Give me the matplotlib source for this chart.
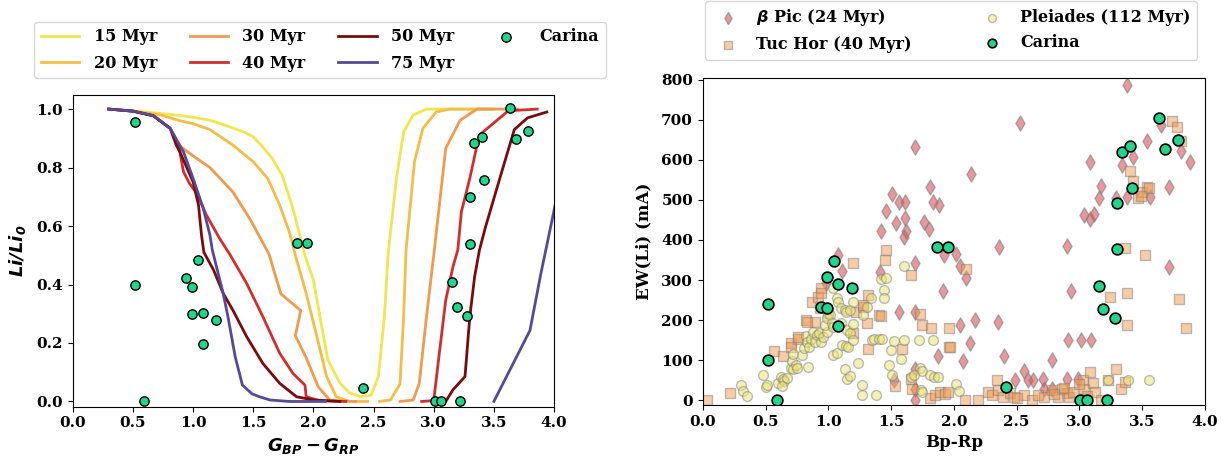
import numpy as np
import matplotlib
matplotlib.use("Agg")
import matplotlib.pyplot as plt

plt.rcParams['font.family'] = 'DejaVu Serif'
plt.rcParams['font.weight'] = 'bold'
plt.rcParams['font.size'] = 11

nan = np.nan

# lithium depletion curves (Li/Li0 vs Gbp-Grp)
ages = ['15 Myr', '20 Myr', '30 Myr', '40 Myr', '50 Myr', '75 Myr']
colors = ['#f0e64e', '#f4bd45', '#f09a4c', '#d42d2d', '#7a0b0b', '#564995']

c15_x = [0.3, 0.5, 0.73, 0.89, 1.0, 1.14, 1.3, 1.42, 1.5, 1.58, 1.66, 1.74, 1.83, 1.93, 2.0, 2.05, 2.12, 2.22,
         2.3, 2.39, 2.48, 2.54, 2.59, 2.62, 2.69, 2.75, 2.83, 2.94, 3.1, 3.5]
c15_y = [1.0, 0.995, 0.985, 0.978, 0.972, 0.962, 0.94, 0.922, 0.905, 0.87, 0.83, 0.774, 0.66, 0.50, 0.415, 0.3,
         0.142, 0.063, 0.03, 0.016, 0.022, 0.085, 0.29, 0.5, 0.763, 0.922, 0.98, 1.0, 1.0, 1.0]

c20_x = [0.3, 0.5, 0.73, 0.89, 1.0, 1.14, 1.33, 1.5, 1.62, 1.72, 1.8, 1.85, 1.94, 2.03, 2.11, 2.19, 2.3, 2.45,
         nan, 2.55, 2.64, 2.72, 2.75, 2.77, 2.84, 2.91, 3.02, 3.13, 3.5]
c20_y = [1.0, 0.993, 0.98, 0.96, 0.95, 0.93, 0.877, 0.82, 0.763, 0.672, 0.58, 0.5, 0.37, 0.22, 0.085, 0.016, 0.0,
         0.0, nan, 0.0, 0.005, 0.06, 0.29, 0.518, 0.82, 0.934, 0.99, 1.0, 1.0]

c30_x = [0.3, 0.5, 0.67, 0.81, 0.88, 1.0, 1.14, 1.33, 1.47, 1.56, 1.63, 1.73, 1.895, 1.85, 1.94, 2.04, 2.14, 2.35,
         nan, 2.72, 2.83, 2.88, 2.94, 3.0, 3.1, 3.22, 3.36, 3.7]
c30_y = [1.0, 0.993, 0.977, 0.934, 0.877, 0.84, 0.80, 0.717, 0.626, 0.558, 0.505, 0.368, 0.311, 0.225, 0.15, 0.05,
         0.003, 0.0, nan, 0.0, 0.005, 0.062, 0.29, 0.5, 0.866, 0.962, 1.0, 1.0]

c40_x = [0.3, 0.5, 0.67, 0.81, 0.88, 0.92, 0.97, 1.03, 1.11, 1.22, 1.31, 1.445, 1.58, 1.72, 1.83, 1.93, 1.94, 2.05,
         2.27, nan, 2.9, 3.0, 3.05, 3.1, 3.16, 3.2, 3.23, 3.3, 3.36, 3.39, 3.62, 3.86]
c40_y = [1.0, 0.993, 0.977, 0.934, 0.877, 0.786, 0.746, 0.712, 0.638, 0.558, 0.5, 0.404, 0.29, 0.165, 0.096, 0.056,
         0.016, 0.003, 0.0, nan, 0.0, 0.003, 0.176, 0.347, 0.461, 0.518, 0.649, 0.763, 0.877, 0.915, 0.994, 1.0]

c50_x = [0.3, 0.5, 0.67, 0.81, 0.86, 0.89, 1.0, 1.045, 1.07, 1.09, 1.17, 1.25, 1.33, 1.445, 1.58, 1.72, 1.86, 2.0,
         2.22, nan, 3.02, 3.1, 3.16, 3.26, 3.3, 3.34, 3.38, 3.43, 3.56, 3.67, 3.78, 3.94]
c50_y = [1.0, 0.993, 0.977, 0.934, 0.877, 0.854, 0.751, 0.672, 0.569, 0.51, 0.45, 0.37, 0.313, 0.222, 0.13, 0.062,
         0.016, 0.005, 0.0, nan, 0.0, 0.0, 0.04, 0.085, 0.29, 0.427, 0.518, 0.596, 0.778, 0.93, 0.97, 0.99]

c75_x = [0.3, 0.5, 0.67, 0.81, 0.92, 1.0, 1.085, 1.14, 1.16, 1.25, 1.29, 1.35, 1.41, 1.49, 1.56, 1.64, 1.8, 2.1,
         nan, 3.5, 3.8, 3.89, 4.0, 4.1]
c75_y = [1.0, 0.993, 0.978, 0.934, 0.854, 0.763, 0.66, 0.569, 0.518, 0.37, 0.29, 0.153, 0.056, 0.026, 0.015, 0.005,
         0.0, 0.0, nan, 0.0, 0.243, 0.436, 0.653, 0.87]

curves_x = [c15_x, c20_x, c30_x, c40_x, c50_x, c75_x]
curves_y = [c15_y, c20_y, c30_y, c40_y, c50_y, c75_y]

# Carina members
car_bprp = [0.516, 0.516, 0.59, 0.94, 0.99, 0.99, 1.044, 1.08, 1.08, 1.19, 1.866, 1.95, 2.414, 3.007, 3.06, 3.22,
            3.156, 3.19, 3.28, 3.30, 3.30, 3.336, 3.40, 3.417, 3.636, 3.68, 3.787]
car_li = [0.957, 0.399, 0.0, 0.421, 0.393, 0.298, 0.485, 0.304, 0.195, 0.279, 0.542, 0.542, 0.047, 0.0, 0.0, 0.0,
          0.408, 0.323, 0.292, 0.54, 0.70, 0.883, 0.904, 0.757, 1.005, 0.896, 0.925]
car_ew = [240, 101, 0, 233, 231, 307, 347, 289, 184, 280, 382, 382, 33, 0, 0, 0,
          286, 227, 205, 378, 492, 620, 634, 530, 705, 628, 649]

# beta Pic moving group
bpic_x = [0.98, 1.08, 1.106, 1.41, 1.42, 1.46, 1.51, 1.54, 1.56, 1.61, 1.61, 1.62, 1.6, 1.56, 1.69, 1.69, 1.69,
          1.69, 1.69, 1.69, 1.76, 1.80, 1.81, 1.83, 1.88, 1.87, 1.915, 1.92, 2.02, 2.045, 2.1, 2.045, 2.07, 2.125,
          2.133, 2.165, 2.36, 2.35, 2.4, 2.524, 2.56, 2.49, 2.59, 2.63, 2.71, 2.72, 2.78, 2.78, 2.9, 2.93, 2.91,
          3.01, 3.09, 2.9, 2.99, 3.08, 3.04, 3.08, 3.115, 3.154, 3.17, 3.29, 3.34, 3.375, 3.375, 3.43, 3.54, 3.56,
          3.65, 3.71, 3.71, 3.81, 3.88, 1.52]
bpic_ew = [292, 362, 322, 321, 423, 473, 514, 443, 494, 494, 454, 423, 408, 221, 633, 342, 219, 79, 29, 0, 446,
           427, 533, 496, 487, 110, 272, 362, 366, 335, 304, 187, 99, 142, 565, 200, 382, 195, 110, 692, 72, 50,
           50, 50, 54, 29, 29, 100, 385, 272, 150, 150, 150, 52, 52, 594, 462, 452, 464, 504, 536, 505, 586, 786,
           508, 606, 646, 507, 686, 533, 332, 622, 594, 50]

# Tuc Hor
tuc_x = [0.037, 0.22, 0.57, 0.64, 0.70, 0.70, 0.755, 0.76, 0.82, 0.87, 0.92, 0.94, 0.936, 0.89, 0.83, 0.94, 1.0,
         1.2, 1.22, 1.28, 1.28, 1.32, 1.31, 1.2, 1.32, 1.4, 1.42, 1.46, 1.455, 1.66, 1.73, 1.75, 1.82, 1.59, 1.655,
         1.53, 1.67, 1.81, 1.85, 1.89, 1.93, 1.96, 1.96, 2.1, 1.97, 1.95, 2.34, 2.19, 2.085, 2.27, 2.3, 2.35, 2.39,
         2.45, 2.48, 2.56, 2.62, 2.67, 2.72, 2.78, 2.83, 2.86, 2.9, 2.92, 3.03, 3.04, 3.08, 3.11, 3.12, 3.17, 3.23,
         3.29, 3.33, 3.36, 3.36, 3.52, 3.24, 3.38, 3.38, 3.79, 3.85, 3.40, 3.43, 3.47, 3.5, 3.54, 3.55, 3.49, 3.74,
         3.78, 3.81, 2.88, 2.95, 3.0, 3.06, 2.8, 2.5]
tuc_ew = [0, 18, 122, 110, 142, 133, 154, 158, 200, 246, 258, 279, 229, 196, 196, 267, 217, 342, 221, 233, 238,
          262, 192, 169, 129, 212, 211, 375, 350, 312, 214, 187, 179, 129, 52, 36, 29, 5, 12, 21, 15, 179, 133, 327,
          133, 21, 50, 0, 0, 21, 13, 25, 8, 17, 8, 13, 0, 13, 8, 25, 8, 29, 17, 8, 50, 29, 71, 42, 21, 0, 50, 79,
          29, 46, 379, 362, 258, 267, 188, 252, 179, 571, 548, 504, 521, 533, 529, 510, 696, 681, 646, 30, 20, 40,
          10, 15, 5]

# Pleiades
ple_x = [0.303, 0.32, 0.35, 0.48, 0.505, 0.51, 0.6, 0.62, 0.64, 0.65, 0.67, 0.63, 0.7, 0.71, 0.72, 0.74, 0.75,
         0.72, 0.79, 0.81, 0.82, 0.83, 0.845, 0.86, 0.835, 0.88, 0.895, 0.91, 0.925, 0.945, 0.96, 0.99, 0.975,
         0.99, 1.01, 1.03, 1.04, 1.04, 1.07, 1.08, 1.1, 1.13, 1.14, 1.17, 1.2, 1.1, 1.15, 1.17, 1.04, 1.07, 1.11,
         1.14, 1.16, 1.2, 1.13, 1.15, 1.17, 1.24, 1.2, 1.27, 1.27, 1.28, 1.31, 1.34, 1.35, 1.36, 1.4, 1.43, 1.38,
         1.42, 1.46, 1.44, 1.44, 1.5, 1.52, 1.58, 1.6, 1.48, 1.51, 1.6, 1.72, 1.83, 1.73, 1.75, 1.81, 1.84, 1.87,
         1.66, 1.68, 1.74, 1.75, 2.02, 2.04, 3.23, 3.39, 3.55]
ple_ew = [39, 22, 11, 62, 33, 39, 42, 58, 52, 47, 56, 36, 80, 97, 78, 88, 80, 115, 112, 131, 160, 146, 133, 154,
          83, 171, 146, 162, 167, 146, 158, 171, 188, 204, 213, 192, 183, 279, 254, 246, 229, 224, 219, 224, 244,
          192, 175, 169, 113, 119, 138, 136, 133, 150, 79, 54, 61, 92, 190, 37, 12, 212, 233, 254, 150, 154, 154,
          154, 14, 303, 304, 275, 254, 125, 148, 102, 150, 87, 62, 334, 150, 150, 80, 73, 62, 58, 58, 58, 63, 26,
          20, 40, 22, 50, 50, 50]

carina_col = '#1fd68c'

fig = plt.figure(figsize=(12.29, 4.57), dpi=100)

# ---- left panel
ax1 = fig.add_axes([0.0592, 0.110, 0.3916, 0.682])
for xs, ys, lab, col in zip(curves_x, curves_y, ages, colors):
    ax1.plot(xs, ys, color=col, lw=2.0, label=lab)
ax1.scatter(car_bprp, car_li, s=45, c=carina_col, edgecolors='black', linewidths=1.0, zorder=5, label='Carina')
ax1.set_xlim(0, 4)
ax1.set_ylim(-0.018, 1.048)
ax1.set_xticks(np.arange(0, 4.01, 0.5))
ax1.set_yticks(np.arange(0, 1.01, 0.2))
ax1.set_xlabel(r'$\mathbfit{G_{BP} - G_{RP}}$', fontsize=13, labelpad=4)
ax1.set_ylabel(r'$\mathbfit{Li/Li_0}$', fontsize=13, labelpad=6)
ax1.legend(loc='upper left', bbox_to_anchor=(0.028, 0.952), bbox_transform=fig.transFigure, ncol=4,
           handlelength=2.4, columnspacing=2.05, handletextpad=0.9, fontsize=11.5, labelspacing=0.6,
           borderaxespad=0)

# ---- right panel
ax2 = fig.add_axes([0.5718, 0.1138, 0.4087, 0.716])
ax2.scatter(bpic_x, bpic_ew, marker='d', s=60, c='#d9545c', edgecolors='gray', linewidths=1.0, alpha=0.6,
            label=r'$\mathbfit{\beta}$ Pic (24 Myr)')
ax2.scatter(tuc_x, tuc_ew, marker='s', s=55, c='#f29a4e', edgecolors='gray', linewidths=1.0, alpha=0.5,
            label='Tuc Hor (40 Myr)')
ax2.scatter(ple_x, ple_ew, marker='o', s=50, c='#ebe570', edgecolors='gray', linewidths=1.0, alpha=0.5,
            label='Pleiades (112 Myr)')
ax2.scatter(car_bprp, car_ew, s=60, c=carina_col, edgecolors='black', linewidths=1.2, zorder=5, label='Carina')
ax2.set_xlim(0, 4)
ax2.set_ylim(-12, 805)
ax2.set_xticks(np.arange(0, 4.01, 0.5))
ax2.set_yticks(np.arange(0, 801, 100))
ax2.set_xlabel('Bp-Rp', fontsize=12, fontweight='bold', labelpad=4)
ax2.set_ylabel('EW(Li) (mA)', fontsize=12, fontweight='bold', labelpad=6)
ax2.legend(loc='upper center', bbox_to_anchor=(0.774, 0.998), bbox_transform=fig.transFigure, ncol=2,
           handletextpad=0.8, columnspacing=4.0, fontsize=11.5, borderaxespad=0, markerscale=0.8)

for ax in (ax1, ax2):
    for lab in ax.get_xticklabels() + ax.get_yticklabels():
        lab.set_fontweight('bold')

plt.savefig('out.png', dpi=100)
